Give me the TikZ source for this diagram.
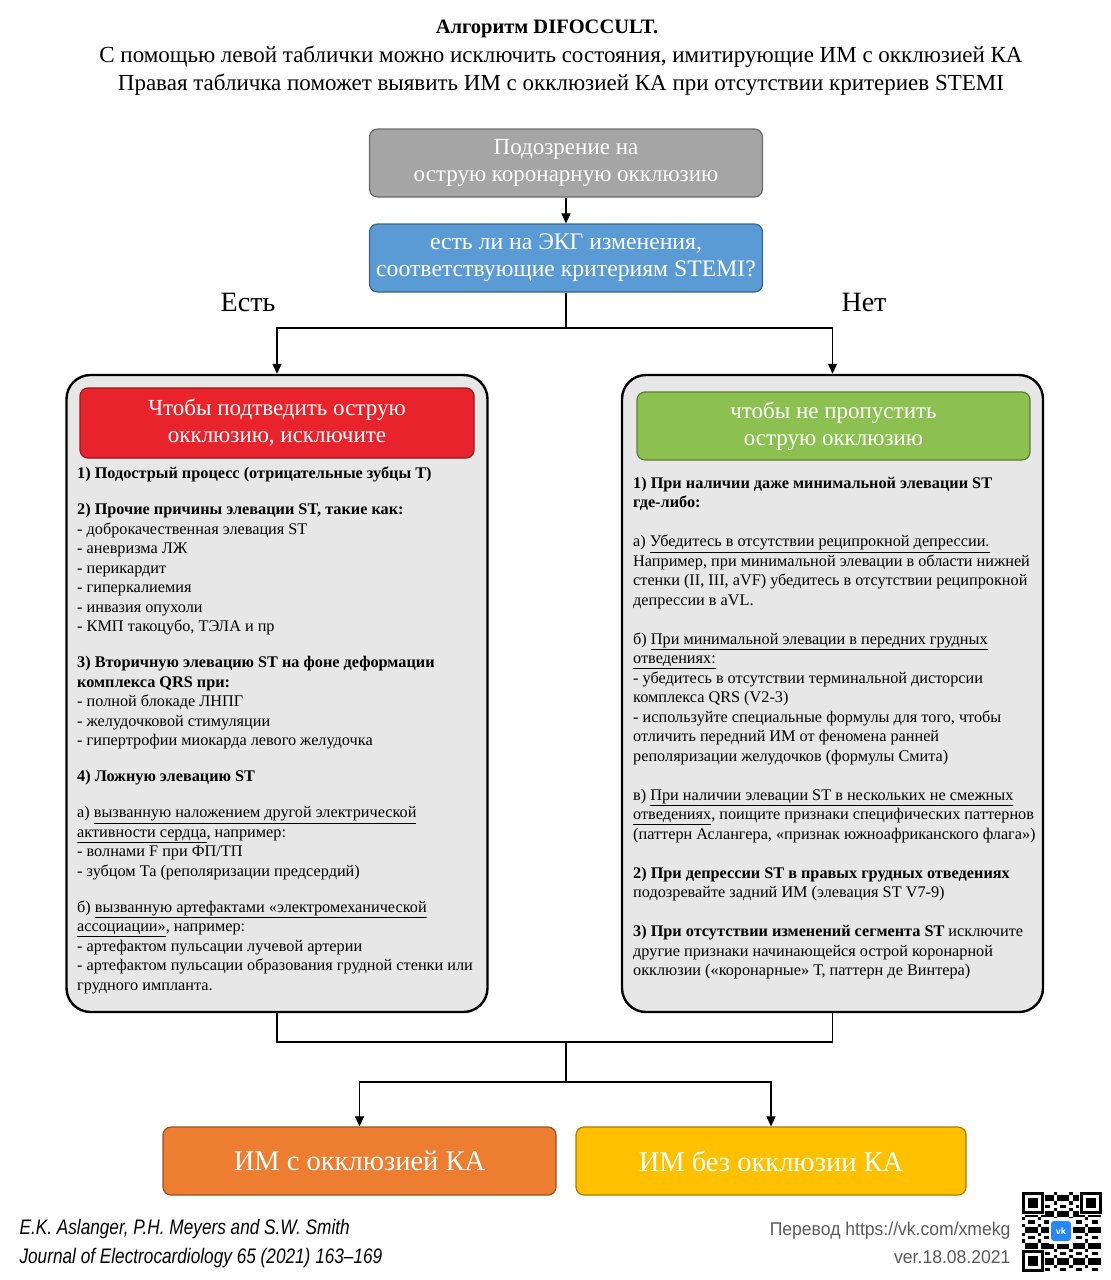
\documentclass[tikz,border=0pt]{standalone}
\usepackage{fontspec}
\setmainfont{Liberation Serif}
\newfontfamily\citefont[FakeStretch=0.82]{Liberation Sans}
\newfontfamily\creditfont[FakeStretch=0.95]{Liberation Sans}
\usetikzlibrary{arrows.meta}

\definecolor{suspectgray}{HTML}{A5A5A5}
\definecolor{stemiblue}{HTML}{5B9BD5}
\definecolor{excludered}{HTML}{E8232B}
\definecolor{missgreen}{HTML}{8CC152}
\definecolor{occlorange}{HTML}{ED7D31}
\definecolor{nonocclyellow}{HTML}{FFC000}
\definecolor{panelgray}{HTML}{E7E7E7}
\definecolor{creditgray}{HTML}{595959}
\definecolor{vkblue}{HTML}{2787F5}

\tikzset{
  flowbox/.style={draw=#1!65!black, fill=#1, rounded corners=8, line width=1.2,
    text=white, align=center, minimum width=393, minimum height=68,
    font=\fontsize{23}{27}\selectfont},
  panel/.style={draw, fill=panelgray, rounded corners=24, line width=2.4,
    minimum width=421, minimum height=637},
  bodytext/.style={anchor=north west, inner sep=0, align=left,
    font=\fontsize{16.25}{19.5}\selectfont},
  answer/.style={font=\fontsize{28}{32}\selectfont},
  link/.style={line width=1.1},
  >={Triangle[length=10pt,width=9pt]},
}

\begin{document}
\begin{tikzpicture}[x=1pt, y=-1pt]
  \useasboundingbox (0,0) rectangle (1111,1280);

  % title
  \node [font=\fontsize{20.5}{28}\selectfont\bfseries] (heading) at (547,29) {Алгоритм DIFOCCULT.};
  \node [align=center, font=\fontsize{23}{28}\selectfont] (subtitle) at (561,71)
    {С помощью левой таблички можно исключить состояния, имитирующие ИМ с окклюзией КА\\
     Правая табличка поможет выявить ИМ с окклюзией КА при отсутствии критериев STEMI};

  % top of the chart
  \node [flowbox=suspectgray] (suspect) at (566,163) {Подозрение на\\острую коронарную окклюзию};
  \node [flowbox=stemiblue, font=\fontsize{23.7}{27}\selectfont] (stemi) at (566,258)
    {есть ли на ЭКГ изменения,\\соответствующие критериям STEMI?};
  \draw [link, ->] (suspect) -- (stemi);

  \node [answer] (yes) at (248,302) {Есть};
  \node [answer] (no) at (864,302) {Нет};

  % the two tables
  \node [panel] (leftbox) at (277,693.5) {};
  \node [panel] (rightbox) at (832.5,693.5) {};
  \node [flowbox=excludered, minimum width=394, minimum height=70] (exclude) at (277,423)
    {Чтобы подтведить острую\\окклюзию, исключите};
  \node [flowbox=missgreen] (dontmiss) at (833.5,426)
    {чтобы не пропустить\\острую окклюзию};

  \coordinate (fork) at (566,328);
  \draw [link] (stemi) -- (fork);
  \draw [link, ->] (fork) -| (leftbox.north);
  \draw [link, ->] (fork) -| (rightbox.north);

  \node [bodytext] (lefttext) at (77,467) {%
    \textbf{1) Подострый процесс (отрицательные зубцы Т)}\\[16.5pt]
    \textbf{2) Прочие причины элевации ST, такие как:}\\
    - доброкачественная элевация ST\\
    - аневризма ЛЖ\\
    - перикардит\\
    - гиперкалиемия\\
    - инвазия опухоли\\
    - КМП такоцубо, ТЭЛА и пр\\[16.5pt]
    \textbf{3) Вторичную элевацию ST на фоне деформации}\\
    \textbf{комплекса QRS при:}\\
    - полной блокаде ЛНПГ\\
    - желудочковой стимуляции\\
    - гипертрофии миокарда левого желудочка\\[16.5pt]
    \textbf{4) Ложную элевацию ST}\\[16.5pt]
    а) \underline{вызванную наложением другой электрической}\\
    \underline{активности сердца}, например:\\
    - волнами F при ФП/ТП\\
    - зубцом Та (реполяризации предсердий)\\[16.5pt]
    б) \underline{вызванную артефактами «электромеханической}\\
    \underline{ассоциации»}, например:\\
    - артефактом пульсации лучевой артерии\\
    - артефактом пульсации образования грудной стенки или\\
    грудного импланта.};

  \node [bodytext] (righttext) at (633,477) {%
    \textbf{1) При наличии даже минимальной элевации ST}\\
    \textbf{где-либо:}\\[19.5pt]
    а) \underline{Убедитесь в отсутствии реципрокной депрессии.}\\
    Например, при минимальной элевации в области нижней\\
    стенки (II, III, aVF) убедитесь в отсутствии реципрокной\\
    депрессии в aVL.\\[19.5pt]
    б) \underline{При минимальной элевации в передних грудных}\\
    \underline{отведениях:}\\
    - убедитесь в отсутствии терминальной дисторсии\\
    комплекса QRS (V2-3)\\
    - используйте специальные формулы для того, чтобы\\
    отличить передний ИМ от феномена ранней\\
    реполяризации желудочков (формулы Смита)\\[19.5pt]
    в) \underline{При наличии элевации ST в нескольких не смежных}\\
    \underline{отведениях}, поищите признаки специфических паттернов\\
    (паттерн Аслангера, «признак южноафриканского флага»)\\[19.5pt]
    \textbf{2) При депрессии ST в правых грудных отведениях}\\
    подозревайте задний ИМ (элевация ST V7-9)\\[19.5pt]
    \textbf{3) При отсутствии изменений сегмента ST} исключите\\
    другие признаки начинающейся острой коронарной\\
    окклюзии («коронарные» Т, паттерн де Винтера)};

  % outcomes
  \node [flowbox=occlorange, font=\fontsize{28.5}{32}\selectfont] (occl) at (359.5,1161) {ИМ с окклюзией КА};
  \node [flowbox=nonocclyellow, minimum width=390, font=\fontsize{28.5}{32}\selectfont] (nonoccl) at (771,1161) {ИМ без окклюзии КА};

  \coordinate (merge) at (566,1042);
  \coordinate (split) at (566,1082);
  \draw [link] (leftbox.south) |- (merge) -| (rightbox.south);
  \draw [link] (merge) -- (split);
  \draw [link, ->] (split) -| (occl.north);
  \draw [link, ->] (split) -| (nonoccl.north);

  % footer
  \node [anchor=west, font=\citefont\itshape\fontsize{21}{24}\selectfont] (authors) at (16,1229)
    {E.K. Aslanger, P.H. Meyers and S.W. Smith};
  \node [anchor=west, font=\citefont\itshape\fontsize{21}{24}\selectfont] (journal) at (16,1258)
    {Journal of Electrocardiology 65 (2021) 163–169};
  \node [anchor=east, text=creditgray, font=\creditfont\fontsize{18.5}{20}\selectfont] (credit) at (1014,1231)
    {Перевод https://vk.com/xmekg};
  \node [anchor=east, text=creditgray, font=\creditfont\fontsize{18.5}{20}\selectfont] (version) at (1014,1257)
    {ver.18.08.2021};

  % qr code
  \foreach \i in {0,...,24}
    \foreach \j in {0,...,24} {
      \pgfmathtruncatemacro\bit{mod(\i*\i*3+\j*7+\i*\j*5+\j*\j,5)}
      \ifnum\bit<2 \fill (1022+\i*3.16,1192+\j*3.16) rectangle ++(3.16,3.16); \fi
    }
  \foreach \cx/\cy in {1022/1192, 1079.9/1192, 1022/1249.9} {
    \fill [white] (\cx-1,\cy-1) rectangle ++(24.1,24.1);
    \fill (\cx,\cy) rectangle ++(22.1,22.1);
    \fill [white] (\cx+3.16,\cy+3.16) rectangle ++(15.8,15.8);
    \fill (\cx+6.32,\cy+6.32) rectangle ++(9.5,9.5);
  }
  \fill [white] (1049,1218) rectangle (1073,1244);
  \node [fill=vkblue, rounded corners=3, minimum size=20, inner sep=0, text=white,
    font=\sffamily\bfseries\fontsize{10}{10}\selectfont] (vk) at (1061,1231) {vk};
\end{tikzpicture}
\end{document}
